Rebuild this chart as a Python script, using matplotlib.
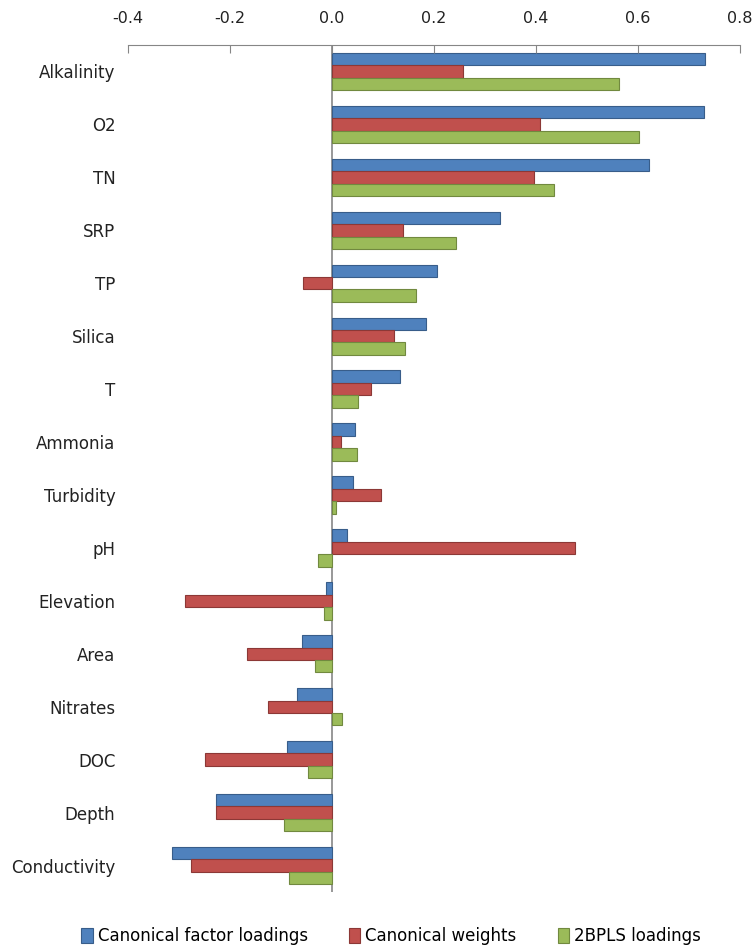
import numpy as np
import matplotlib.pyplot as plt

variables = ['Alkalinity', 'O2', 'TN', 'SRP', 'TP', 'Silica', 'T', 'Ammonia',
             'Turbidity', 'pH', 'Elevation', 'Area', 'Nitrates', 'DOC', 'Depth',
             'Conductivity']
factor_loadings = [0.731, 0.729, 0.622, 0.329, 0.206, 0.184, 0.133, 0.045,
                   0.041, 0.029, -0.012, -0.059, -0.069, -0.088, -0.227, -0.314]
canon_weights = [0.257, 0.408, 0.396, 0.139, -0.057, 0.122, 0.076, 0.018,
                 0.096, 0.476, -0.288, -0.167, -0.125, -0.249, -0.227, -0.276]
pls_loadings = [0.563, 0.602, 0.435, 0.243, 0.165, 0.143, 0.051, 0.049,
                0.008, -0.027, -0.016, -0.033, 0.020, -0.047, -0.094, -0.084]

series = [('Canonical factor loadings', factor_loadings, '#4F81BD', '#385D8A'),
          ('Canonical weights', canon_weights, '#C0504D', '#8C3836'),
          ('2BPLS loadings', pls_loadings, '#9BBB59', '#71893F')]

plt.rcParams['font.family'] = ['DejaVu Sans']
fig = plt.figure(figsize=(7.55, 9.48), dpi=100)
ax = fig.add_axes([0.1695, 0.059, 0.8105, 0.8935])

y = np.arange(len(variables))
h = 0.235
for i, (name, vals, fc, ec) in enumerate(series):
    ax.barh(y + (i - 1) * h, vals, height=h, color=fc, edgecolor=ec,
            linewidth=0.8, label=name)

ax.set_ylim(len(variables) - 0.5, -0.5)
ax.set_xlim(-0.4, 0.8)
ax.set_xticks(np.arange(-0.4, 0.81, 0.2))
ax.set_xticklabels(['%.1f' % v for v in np.arange(-0.4, 0.81, 0.2)])
ax.xaxis.tick_top()
ax.set_yticks(y)
ax.set_yticklabels(variables)

grey = '#868686'
for s in ['left', 'right', 'bottom']:
    ax.spines[s].set_visible(False)
ax.spines['top'].set_color(grey)
ax.axvline(0, color=grey, linewidth=1.2, zorder=0.5)
ax.tick_params(axis='x', direction='in', length=6, color=grey,
               labelsize=11.5, pad=14, labelcolor='#222222')
ax.tick_params(axis='y', length=0, labelsize=12, pad=9, labelcolor='#222222')

fig.legend(loc='lower center', bbox_to_anchor=(0.518, -0.013), ncol=3,
           frameon=False, fontsize=12, handlelength=0.7, handleheight=1.0,
           handletextpad=0.3, columnspacing=2.45)

fig.savefig('out.png', dpi=100)
